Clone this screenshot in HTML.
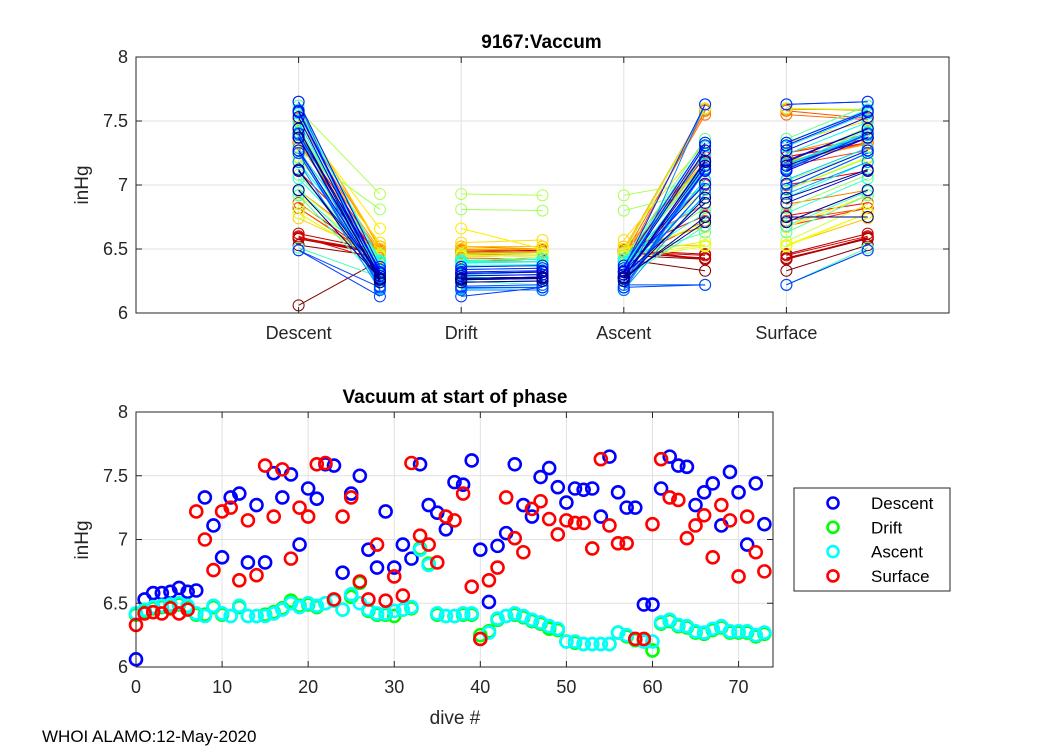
<!DOCTYPE html>
<html><head><meta charset="utf-8"><style>
body{margin:0;background:#fff;}
svg{display:block;font-family:"Liberation Sans",Arial,sans-serif;}
</style></head><body>
<svg id="fig" width="1050" height="750" viewBox="0 0 1050 750" xmlns="http://www.w3.org/2000/svg">
<rect width="1050" height="750" fill="#fff"/>
<g id="topchart"></g>
<g id="botchart"></g>
<text x="42" y="742" font-size="17">WHOI ALAMO:12-May-2020</text>
</svg>
<script>
const descent=[6.06,6.53,6.58,6.58,6.59,6.62,6.59,6.60,7.33,7.11,6.86,7.33,7.36,6.82,7.27,6.82,7.52,7.33,7.51,6.96,7.40,7.32,7.59,7.58,6.74,7.36,7.50,6.92,6.78,7.22,6.78,6.96,6.85,7.59,7.27,7.21,7.08,7.45,7.43,7.62,6.92,6.51,6.95,7.05,7.59,7.27,7.18,7.49,7.56,7.41,7.29,7.40,7.39,7.40,7.18,7.65,7.37,7.25,7.25,6.49,6.49,7.40,7.65,7.58,7.57,7.27,7.37,7.44,7.11,7.53,7.37,6.96,7.44,7.12];
const ascent=[6.42,6.45,6.47,6.48,6.49,6.50,6.48,6.42,6.40,6.48,6.42,6.40,6.48,6.40,6.40,6.40,6.42,6.45,6.50,6.47,6.50,6.48,6.50,6.52,6.45,6.57,6.50,6.45,6.42,6.42,6.44,6.45,6.47,6.92,6.80,6.42,6.40,6.40,6.42,6.42,6.22,6.27,6.38,6.40,6.42,6.40,6.37,6.35,6.32,6.30,6.20,6.20,6.18,6.18,6.18,6.18,6.27,6.25,6.22,6.20,6.20,6.35,6.37,6.33,6.32,6.28,6.27,6.30,6.32,6.28,6.28,6.28,6.25,6.27];
const drift=[6.41,6.44,6.46,6.47,6.48,6.49,6.47,6.41,6.41,6.47,6.41,6.40,6.47,6.40,6.40,6.41,6.43,6.46,6.52,6.48,6.49,6.47,6.50,6.52,6.45,6.55,6.66,6.44,6.41,6.41,6.40,6.45,6.46,6.93,6.81,6.41,6.40,6.40,6.41,6.41,6.25,6.28,6.37,6.40,6.41,6.39,6.36,6.34,6.30,6.29,6.20,6.19,6.18,6.18,6.18,6.18,6.27,6.24,6.21,6.20,6.13,6.34,6.36,6.32,6.31,6.27,6.26,6.29,6.31,6.27,6.27,6.27,6.24,6.26];
const surface=[6.33,6.42,6.43,6.42,6.46,6.42,6.45,7.22,7.00,6.76,7.22,7.25,6.68,7.15,6.72,7.58,7.18,7.55,6.85,7.25,7.18,7.59,7.60,6.53,7.18,7.33,6.67,6.53,6.96,6.52,6.71,6.56,7.60,7.03,6.96,6.82,7.18,7.15,7.36,6.63,6.22,6.68,6.78,7.33,7.01,6.90,7.24,7.30,7.16,7.04,7.15,7.13,7.13,6.93,7.63,7.11,6.97,6.97,6.22,6.22,7.12,7.63,7.33,7.31,7.01,7.11,7.19,6.86,7.27,7.15,6.71,7.18,6.90,6.75];
const yTicks=[6,6.5,7,7.5,8];
const xTicksBot=[0,10,20,30,40,50,60,70];
const phaseLabels=["Descent","Drift","Ascent","Surface"];
const seriesNames=["Descent","Drift","Ascent","Surface"];
const seriesColors=["#0000ff","#00ff00","#00ffff","#ff0000"];

const NS="http://www.w3.org/2000/svg";
function mk(parent,tag,attrs,text){const e=document.createElementNS(NS,tag);for(const k in attrs)e.setAttribute(k,attrs[k]);if(text!==undefined)e.textContent=text;parent.appendChild(e);return e;}
function jet(t){const c=v=>Math.round(255*Math.max(0,Math.min(1,v)));return `rgb(${c(1.5-Math.abs(4*t-3))},${c(1.5-Math.abs(4*t-2))},${c(1.5-Math.abs(4*t-1))})`;}

// ---------- top chart ----------
const topG=document.getElementById('topchart');
const T={x0:136,x1:949,y0:57,y1:313,xmin:-1,xmax:9};
const tx=v=>T.x0+(v-T.xmin)/(T.xmax-T.xmin)*(T.x1-T.x0);
const ty=v=>T.y1-(v-6)/2*(T.y1-T.y0);
let g;
[1,3,5,7].forEach(v=>{g=mk(topG,'line',{x1:tx(v),x2:tx(v),y1:T.y0,y2:T.y1,stroke:'#e1e1e1'});});
yTicks.forEach(v=>{g=mk(topG,'line',{x1:T.x0,x2:T.x1,y1:ty(v),y2:ty(v),stroke:'#e1e1e1'});});
const n=descent.length;
for(let i=0;i<n;i++){
  const col=jet(1-i/(n-1));
  const nextD=i+1<n?descent[i+1]:surface[i];
  const segs=[[1,descent[i],2,drift[i]],[3,drift[i],4,ascent[i]],[5,ascent[i],6,surface[i]],[7,surface[i],8,nextD]];
  segs.forEach(s=>{
    const l=mk(topG,'line',{x1:tx(s[0]),y1:ty(s[1]),x2:tx(s[2]),y2:ty(s[3]),stroke:col,'stroke-width':1});
    
    
    [[s[0],s[1]],[s[2],s[3]]].forEach(p=>{
      const c=mk(topG,'circle',{cx:tx(p[0]),cy:ty(p[1]),r:5.5,fill:'none',stroke:col,'stroke-width':1});
      
      
    });
  });
}
g=mk(topG,'rect',{x:T.x0,y:T.y0,width:T.x1-T.x0,height:T.y1-T.y0,fill:'none',stroke:'#262626','stroke-width':1});

yTicks.forEach(v=>{
  mk(topG,'line',{x1:T.x0,x2:T.x0+6,y1:ty(v),y2:ty(v),stroke:'#262626'});
  mk(topG,'line',{x1:T.x1,x2:T.x1-6,y1:ty(v),y2:ty(v),stroke:'#262626'});
  g=mk(topG,'text',{x:T.x0-8,y:ty(v)+6,'text-anchor':'end','font-size':18,fill:'#262626'},String(v));
  
});
phaseLabels.forEach((s,k)=>{
  const v=1+2*k;
  mk(topG,'line',{x1:tx(v),x2:tx(v),y1:T.y1,y2:T.y1-6,stroke:'#262626'});
  mk(topG,'line',{x1:tx(v),x2:tx(v),y1:T.y0,y2:T.y0+6,stroke:'#262626'});
  g=mk(topG,'text',{x:tx(v),y:T.y1+26,'text-anchor':'middle','font-size':18,fill:'#262626'},s);
  
});
g=mk(topG,'text',{x:(T.x0+T.x1)/2-1,y:48,'text-anchor':'middle','font-size':19,'font-weight':'bold',fill:'#000'},'9167:Vaccum');

g=mk(topG,'text',{x:88,y:185,'text-anchor':'middle','font-size':19,fill:'#262626',transform:'rotate(-90 88 185)'},'inHg');


// ---------- bottom chart ----------
const botG=document.getElementById('botchart');
const B={x0:136,x1:773,y0:412,y1:667,xmin:0,xmax:74};
const bx=v=>B.x0+(v-B.xmin)/(B.xmax-B.xmin)*(B.x1-B.x0);
const by=v=>B.y1-(v-6)/2*(B.y1-B.y0);
xTicksBot.forEach(v=>{g=mk(botG,'line',{x1:bx(v),x2:bx(v),y1:B.y0,y2:B.y1,stroke:'#e1e1e1'});});
yTicks.forEach(v=>{g=mk(botG,'line',{x1:B.x0,x2:B.x1,y1:by(v),y2:by(v),stroke:'#e1e1e1'});});
const series=[descent,drift,ascent,surface];
series.forEach((arr,k)=>{
  arr.forEach((v,i)=>{
    const c=mk(botG,'circle',{cx:bx(i),cy:by(v),r:6,fill:'none',stroke:seriesColors[k],'stroke-width':2.6});
    
    
  });
});
g=mk(botG,'rect',{x:B.x0,y:B.y0,width:B.x1-B.x0,height:B.y1-B.y0,fill:'none',stroke:'#262626','stroke-width':1});

yTicks.forEach(v=>{
  mk(botG,'line',{x1:B.x0,x2:B.x0+6,y1:by(v),y2:by(v),stroke:'#262626'});
  mk(botG,'line',{x1:B.x1,x2:B.x1-6,y1:by(v),y2:by(v),stroke:'#262626'});
  g=mk(botG,'text',{x:B.x0-8,y:by(v)+6,'text-anchor':'end','font-size':18,fill:'#262626'},String(v));
  
});
xTicksBot.forEach(v=>{
  mk(botG,'line',{x1:bx(v),x2:bx(v),y1:B.y1,y2:B.y1-6,stroke:'#262626'});
  mk(botG,'line',{x1:bx(v),x2:bx(v),y1:B.y0,y2:B.y0+6,stroke:'#262626'});
  g=mk(botG,'text',{x:bx(v),y:B.y1+26,'text-anchor':'middle','font-size':18,fill:'#262626'},String(v));
  
});
g=mk(botG,'text',{x:455,y:403,'text-anchor':'middle','font-size':19,'font-weight':'bold',fill:'#000'},'Vacuum at start of phase');

g=mk(botG,'text',{x:455,y:724,'text-anchor':'middle','font-size':19,fill:'#262626'},'dive #');

g=mk(botG,'text',{x:88,y:540,'text-anchor':'middle','font-size':19,fill:'#262626',transform:'rotate(-90 88 540)'},'inHg');

// legend
const leg=mk(botG,'g',{});


mk(leg,'rect',{x:794,y:488,width:156,height:103,fill:'#fff',stroke:'#262626','stroke-width':1});
seriesNames.forEach((s,k)=>{
  const yy=503+k*24.3;
  const e=mk(leg,'g',{});
  
  
  mk(e,'circle',{cx:833,cy:yy,r:5.5,fill:'none',stroke:seriesColors[k],'stroke-width':2.6});
  mk(e,'text',{x:871,y:yy+6,'font-size':17,fill:'#000'},s);
});
</script>
</body></html>
